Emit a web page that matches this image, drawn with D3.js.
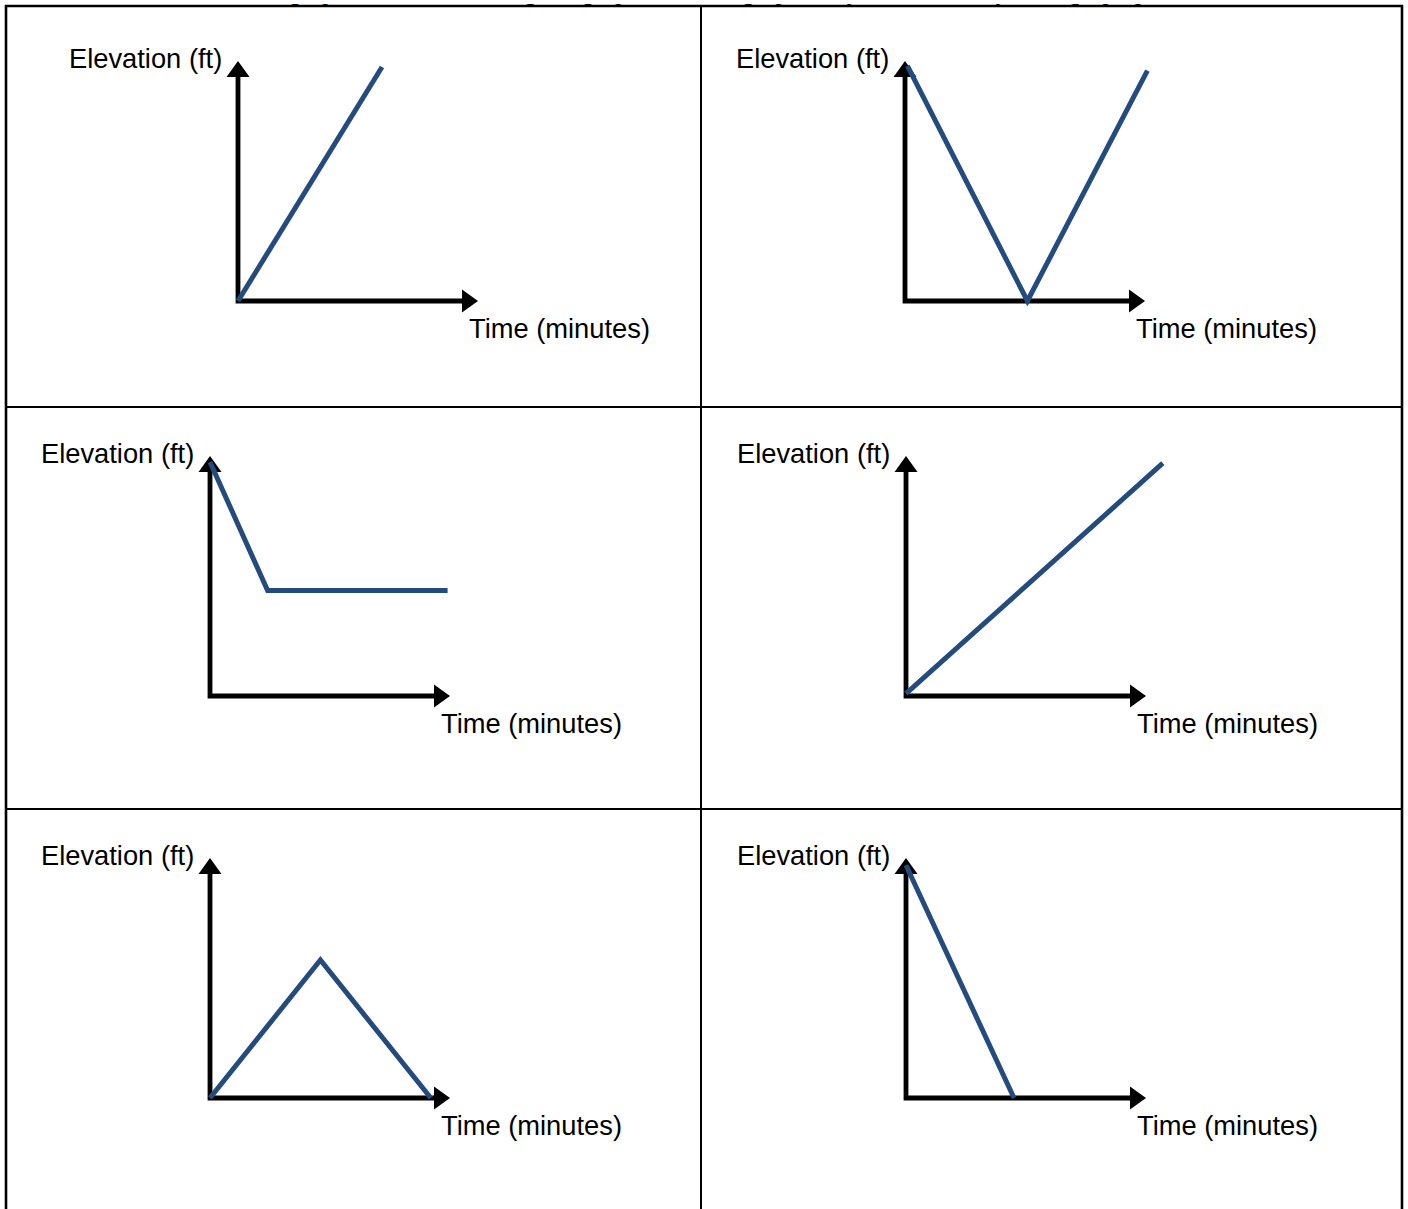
<!DOCTYPE html>
<html>
<head>
<meta charset="utf-8">
<script src="https://cdn.jsdelivr.net/npm/d3@7"></script>
<style>
  html, body { margin: 0; padding: 0; background: #fff; }
  svg { display: block; }
</style>
</head>
<body>
<svg id="chart"></svg>
<script>
// axis labels
const yLabel = "Elevation (ft)";
const xLabel = "Time (minutes)";

// elevation-vs-time stories, in axis units (0..10 on both axes)
const graphA = [[0, 0], [6, 9.75]];
const graphB = [[0.1, 9.8], [5.1, 0], [10.1, 9.6]];
const graphC = [[0, 9.75], [2.4, 4.4], [9.9, 4.4]];
const graphD = [[0, 0.1], [10.7, 9.7]];
const graphE = [[0, 0], [4.6, 5.75], [9.2, 0]];
const graphF = [[0, 9.7], [4.5, 0]];

const graphs = [graphA, graphB, graphC, graphD, graphE, graphF];

const width = 1408, height = 1209;
const colX = [6, 701, 1402];
const rowY = [6, 407, 809, 1215];
// axis origin inside each cell
const origins = [[238, 301], [905, 301], [210, 696], [906, 696], [210, 1098], [906, 1098]];
const axisLen = 240;

const svg = d3.select("#chart")
  .attr("width", width)
  .attr("height", height);

// the sentence above the table, cut off by the page top as in the scan
svg.append("text")
  .attr("x", 148)
  .attr("y", 0)
  .attr("font-family", "'Liberation Serif', 'Times New Roman', serif")
  .attr("font-size", 26)
  .text("Look at each graph below, then using the graphs, write a graph story that is told by each graph provided.");

svg.append("rect").attr("x", 0).attr("y", 0).attr("width", width).attr("height", 4).attr("fill", "#fff");

// table grid
const grid = svg.append("g").attr("stroke", "#000");
grid.append("line").attr("x1", colX[0] - 1).attr("x2", colX[2] + 1).attr("y1", rowY[0]).attr("y2", rowY[0]).attr("stroke-width", 2.6);
grid.append("line").attr("x1", colX[0]).attr("x2", colX[0]).attr("y1", rowY[0] - 1).attr("y2", height).attr("stroke-width", 2.6);
grid.append("line").attr("x1", colX[2]).attr("x2", colX[2]).attr("y1", rowY[0] - 1).attr("y2", height).attr("stroke-width", 2.6);
grid.append("line").attr("x1", colX[1]).attr("x2", colX[1]).attr("y1", rowY[0]).attr("y2", height).attr("stroke-width", 2);
grid.selectAll(".row").data([rowY[1], rowY[2]]).enter().append("line")
  .attr("x1", colX[0]).attr("x2", colX[2])
  .attr("y1", d => d).attr("y2", d => d)
  .attr("stroke-width", 2);

const line = d3.line();

graphs.forEach((pts, i) => {
  const [ox, oy] = origins[i];
  const x = d3.scaleLinear().domain([0, 10]).range([ox, ox + axisLen]);
  const y = d3.scaleLinear().domain([0, 10]).range([oy, oy - axisLen]);
  const g = svg.append("g");

  // axes with arrowheads
  g.append("path")
    .attr("d", line([[x(0), y(0)], [x(0), y(10) + 12]]) + line([[x(0) - 2.4, y(0)], [x(10) - 12, y(0)]]))
    .attr("stroke", "#000")
    .attr("stroke-width", 4.8)
    .attr("fill", "none");
  g.append("path")
    .attr("d", line([[x(0), y(10)], [x(0) - 11.5, y(10) + 16], [x(0) + 11.5, y(10) + 16]]) + "Z")
    .attr("fill", "#000");
  g.append("path")
    .attr("d", line([[x(10), y(0)], [x(10) - 16, y(0) - 11.5], [x(10) - 16, y(0) + 11.5]]) + "Z")
    .attr("fill", "#000");

  g.append("path")
    .attr("d", line(pts.map(p => [x(p[0]), y(p[1])])))
    .attr("fill", "none")
    .attr("stroke", "#244b7e")
    .attr("stroke-width", 5);

  g.append("text")
    .attr("x", x(0) - 169)
    .attr("y", oy - 233)
    .attr("font-family", "'Liberation Sans', Arial, sans-serif")
    .attr("font-size", 27.3)
    .text(yLabel);

  g.append("text")
    .attr("x", x(0) + 231)
    .attr("y", oy + 37)
    .attr("font-family", "'Liberation Sans', Arial, sans-serif")
    .attr("font-size", 27.3)
    .text(xLabel);
});
</script>
</body>
</html>
